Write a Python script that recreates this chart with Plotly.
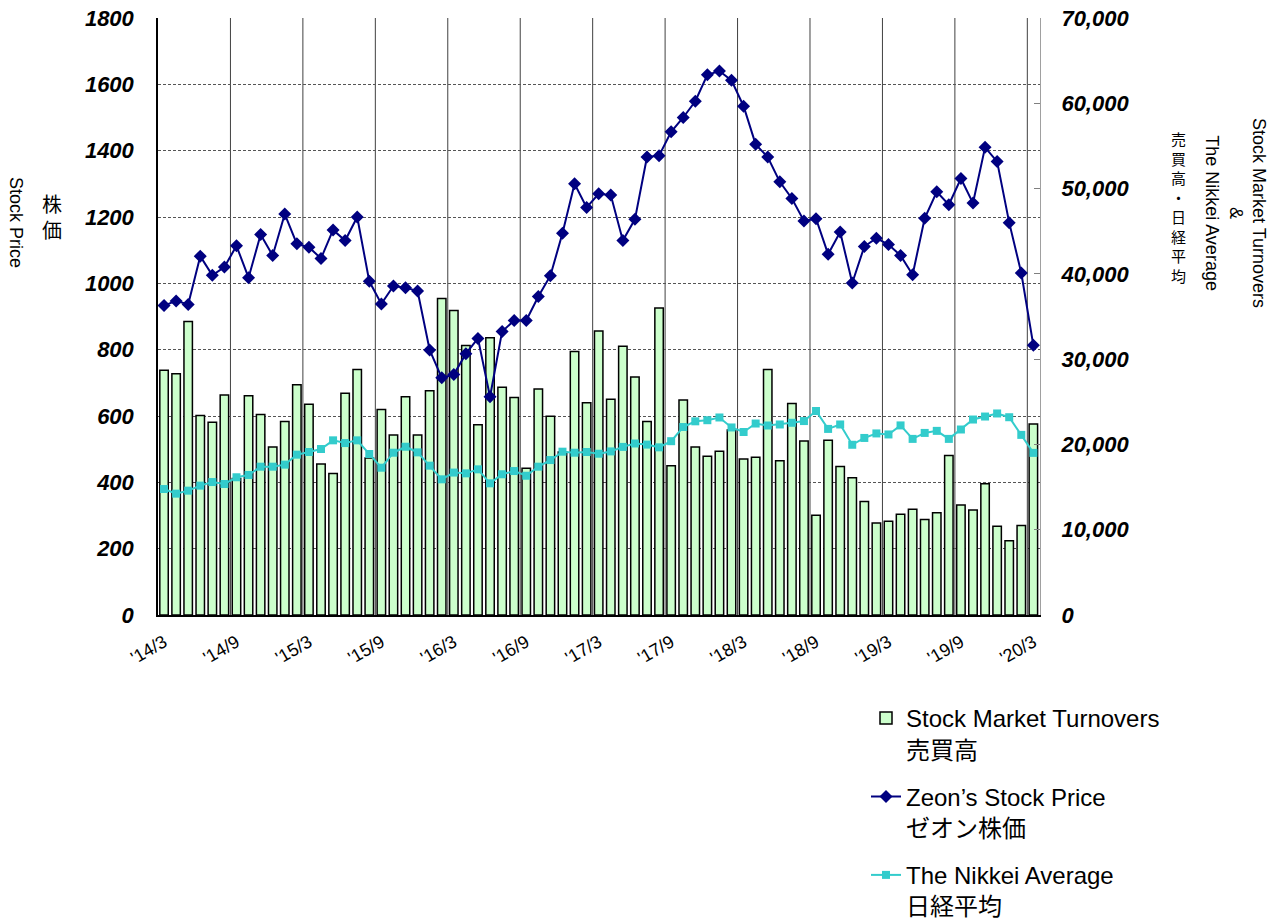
import plotly.graph_objects as go

# ---------------- data ----------------
months = [f"{2014 + (2 + k) // 12}/{(2 + k) % 12 + 1:02d}" for k in range(73)]  # 2014/03 .. 2020/03
tick_labels = ["'14/3", "'14/9", "'15/3", "'15/9", "'16/3", "'16/9", "'17/3",
               "'17/9", "'18/3", "'18/9", "'19/3", "'19/9", "'20/3"]

turnover = [28700, 28300, 34400, 23400, 22600, 25800, 16000, 25700, 23500, 19700,
            22700, 27000, 24700, 17700, 16600, 26000, 28800, 18400, 24100, 21100,
            25600, 21100, 26300, 37100, 35700, 31600, 22300, 32500, 26700, 25500,
            17200, 26500, 23300, 19100, 30900, 24900, 33300, 25300, 31500, 27900,
            22700, 36000, 17500, 25200, 19700, 18600, 19200, 21700, 18300, 18500,
            28800, 18100, 24800, 20400, 11700, 20500, 17400, 16100, 13300, 10800,
            11000, 11800, 12400, 11200, 12000, 18700, 12900, 12300, 15400, 10400,
            8700, 10500, 22400]

stock_price = [933, 947, 936, 1082, 1024, 1049, 1113, 1017, 1147, 1084,
               1209, 1119, 1109, 1075, 1161, 1129, 1200, 1006, 938, 992,
               987, 977, 799, 715, 725, 788, 834, 658, 855, 888,
               888, 960, 1023, 1151, 1300, 1229, 1270, 1266, 1129, 1193,
               1381, 1385, 1457, 1500, 1549, 1629, 1640, 1612, 1534, 1419,
               1381, 1306, 1256, 1188, 1195, 1088, 1155, 1001, 1111, 1136,
               1117, 1084, 1026, 1196, 1276, 1237, 1316, 1242, 1410, 1367,
               1183, 1031, 813]

nikkei = [14770, 14230, 14580, 15170, 15590, 15360, 16150, 16420, 17390, 17390,
          17630, 18800, 19110, 19460, 20480, 20160, 20480, 18880, 17270, 19030,
          19730, 19070, 17510, 15910, 16700, 16610, 17080, 15440, 16500, 16880,
          16330, 17390, 18170, 19150, 19030, 19110, 18910, 19180, 19710, 20110,
          19980, 19660, 20380, 22040, 22710, 22840, 23160, 21990, 21460, 22450,
          22220, 22340, 22540, 22740, 23920, 21820, 22340, 19960, 20760, 21290,
          21170, 22230, 20650, 21350, 21590, 20650, 21750, 22920, 23270, 23630,
          23190, 21120, 19010]

FONT = "Arial, 'Liberation Sans', 'Noto Sans CJK JP', sans-serif"
OFF = 0  # page body margin removed below
W, H = 1284, 922
PL, PR, PT, PB = 158 - OFF, 1040 - OFF, 18 - OFF, 615 - OFF
PW, PH = PR - PL, PB - PT


def px(xs):  # screen x -> paper x
    return (xs - OFF - PL) / PW


def py(ys):  # screen y -> paper y
    return (PB - (ys - OFF)) / PH


fig = go.Figure()

fig.add_trace(go.Bar(
    x=months, y=turnover, yaxis="y",
    name="Stock Market Turnovers<br>売買高",
    marker=dict(color="#CCFFCC", line=dict(color="black", width=1.5)),
    legendgroup="a",
))
fig.add_trace(go.Scatter(
    x=months, y=stock_price, yaxis="y2", mode="lines+markers",
    name="Zeon’s Stock Price<br>ゼオン株価",
    line=dict(color="#000080", width=2),
    marker=dict(symbol="diamond", size=10, color="#000080"),
    legendgroup="b",
))
fig.add_trace(go.Scatter(
    x=months, y=nikkei, yaxis="y3", mode="lines+markers",
    name="The Nikkei Average<br>日経平均",
    line=dict(color="#33CCCC", width=2),
    marker=dict(symbol="square", size=8, color="#33CCCC"),
    legendgroup="c",
))

# vertical separators between half-year groups
shapes = []
for k in range(1, 13):
    shapes.append(dict(type="line", xref="x", yref="paper",
                       x0=6 * k - 0.5, x1=6 * k - 0.5, y0=0, y1=1,
                       line=dict(color="#404040", width=1), layer="below"))

fig.update_layout(
    width=W, height=H,
    margin=dict(l=PL, r=W - PR, t=PT, b=H - PB, autoexpand=False),
    paper_bgcolor="white", plot_bgcolor="white",
    font=dict(family=FONT, color="black"),
    bargap=0.3,
    showlegend=True,
    legend=dict(
        x=px(866), y=py(696), xanchor="left", yanchor="top",
        font=dict(size=24, family=FONT),
        traceorder="grouped", tracegroupgap=13, valign="top",
        bgcolor="rgba(0,0,0,0)",
    ),
    xaxis=dict(
        type="category", range=[-0.5, 72.55], automargin=False,
        tickmode="array", tickvals=months[::6], ticktext=tick_labels,
        tickangle=-30, tickfont=dict(size=18, family=FONT),
        showgrid=False, showline=True, linecolor="black", linewidth=1.5,
        ticks="", zeroline=False, ticklabelstandoff=8,
    ),
    yaxis=dict(
        side="right", range=[0, 70000], dtick=10000, tickformat=",",
        automargin=False, ticklabeloverflow="allow",
        tickfont=dict(size=22, family=FONT, weight="bold", style="italic"),
        showgrid=False, zeroline=False,
        showline=True, linecolor="#A0A0A0", linewidth=1,
        ticks="inside", ticklen=6, tickcolor="#808080",
        ticklabelstandoff=16,
    ),
    yaxis2=dict(
        overlaying="y", side="left", range=[0, 1800], dtick=200,
        automargin=False, ticklabeloverflow="allow",
        tickfont=dict(size=22, family=FONT, weight="bold", style="italic"),
        showgrid=True, gridcolor="#555555", gridwidth=1, griddash="3px,2px",
        zeroline=False, showline=True, linecolor="black", linewidth=1.5,
        ticks="", ticklabelstandoff=18,
    ),
    yaxis3=dict(overlaying="y", range=[0, 70000], visible=False),
    shapes=shapes,
    annotations=[
        dict(text="Stock Price", xref="paper", yref="paper",
             x=px(16), y=py(222), textangle=90, xanchor="center", yanchor="middle",
             showarrow=False, font=dict(size=18, family=FONT)),
        dict(text="株<br>価", xref="paper", yref="paper",
             x=px(52), y=py(218), xanchor="center", yanchor="middle",
             showarrow=False, font=dict(size=20, family=FONT)),
        dict(text="Stock Market Turnovers<br>&amp;<br>The Nikkei Average",
             xref="paper", yref="paper",
             x=px(1235), y=py(213), textangle=90, xanchor="center", yanchor="middle",
             showarrow=False, font=dict(size=18, family=FONT)),
        dict(text="売<br>買<br>高<br>・<br>日<br>経<br>平<br>均",
             xref="paper", yref="paper",
             x=px(1178), y=py(208), xanchor="center", yanchor="middle",
             showarrow=False, font=dict(size=15, family=FONT)),
    ],
)

fig.write_html("out.html",
               config={"displayModeBar": False},
               post_script="document.body.style.margin='0';document.body.style.overflow='hidden';")
